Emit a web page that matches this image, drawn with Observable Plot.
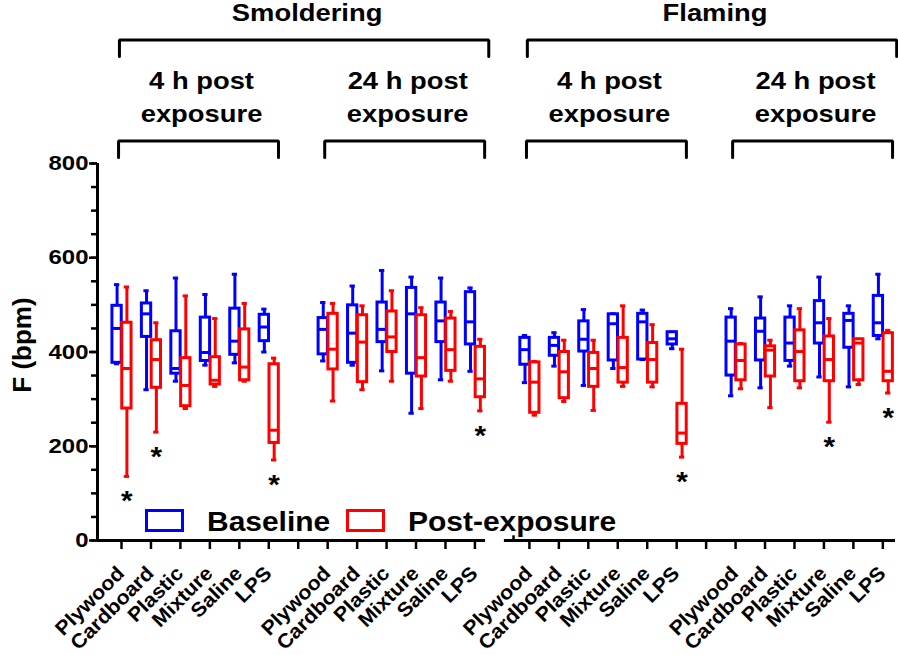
<!DOCTYPE html>
<html><head><meta charset="utf-8">
<script src="https://cdn.jsdelivr.net/npm/d3@7"></script>
<script src="https://cdn.jsdelivr.net/npm/@observablehq/plot@0.6"></script>
<style>
body{margin:0;background:#fff;}
#wrap{position:relative;width:898px;height:655px;font-family:"Liberation Sans",Arial,Helvetica,sans-serif;font-weight:bold;}
.lgbox{position:absolute;box-sizing:border-box;width:39px;height:23px;border:3px solid;background:#fff;}
.lgtext{position:absolute;font-size:28px;line-height:28px;white-space:nowrap;transform-origin:0 50%;color:#000;}
</style></head><body><div id="wrap"></div>
<script>
// ---------- data ----------
const categories = ["Plywood","Cardboard","Plastic","Mixture","Saline","LPS"];
const fireTypes = ["Smoldering","Flaming"];
const timePoints = ["4 h post\nexposure","24 h post\nexposure"];
const seriesNames = ["Baseline","Post-exposure"];
const yTicks = [0,200,400,600,800];
const yMinorStep = 50;
// each entry: [min, q1, median, q3, max] in bpm
const smold4Baseline = [[375,377,450,498,543],[320,432,481,503,530],[338,354,365,444,557],[372,381,399,473,522],[377,394,423,492,565],[400,423,453,479,491]];
const smold4Post     = [[136,280,365,462,538],[230,324,384,425,462],[280,285,329,387,519],[327,331,340,389,471],[338,340,368,448,503],[171,207,234,374,387]];
const smold24Baseline= [[381,395,448,472,505],[372,377,440,499,540],[360,421,448,505,573],[270,354,481,536,559],[341,421,466,505,557],[359,416,464,527,536]];
const smold24Post    = [[296,363,406,481,503],[320,336,421,478,498],[338,400,432,486,530],[280,348,388,478,494],[338,360,405,471,486],[275,304,343,411,427]];
const flam4Baseline  = [[335,373,405,430,435],[370,392,414,430,441],[329,401,427,465,490],[365,382,460,480,481],[384,384,464,481,489],[407,416,428,442,442]];
const flam4Post      = [[266,271,336,378,380],[295,302,358,400,425],[276,326,365,398,425],[327,335,367,430,498],[326,335,384,419,458],[177,205,228,290,406]];
const flam24Baseline = [[307,350,423,473,492],[324,382,444,471,517],[370,381,419,473,498],[347,418,462,508,559],[326,409,467,481,498],[428,434,462,519,565]];
const flam24Post     = [[322,340,382,416,418],[282,348,404,412,425],[324,338,401,446,492],[251,338,384,433,471],[331,340,419,427,427],[313,338,359,440,446]];
// significant post-exposure vs baseline (*)
const smold4Sig = ["Plywood","Cardboard","LPS"];
const smold24Sig = ["LPS"];
const flam4Sig = ["LPS"];
const flam24Sig = ["Mixture","LPS"];

// ---------- layout ----------
const W = 898, H = 655, mL = 97, mR = 3, mT = 163, mB = 115;
const xDomain = [-0.815, 26.28];
const fireStart = [0, 13.85];
const groupStart = [0, 7, 13.85, 20.85];
const slotsPerFire = 13;
const colors = {"Baseline": "#0000ff", "Post-exposure": "#ff0000"};
const seriesOffset = {"Baseline": -0.15, "Post-exposure": 0.183};
const boxHalf = 0.158, capHalf = 0.09;
const px2v = py => 800 * (H - mB - py) / (H - mB - mT);

const groups = [
  {fire: 0, time: 0, sets: [smold4Baseline, smold4Post], sig: smold4Sig},
  {fire: 0, time: 1, sets: [smold24Baseline, smold24Post], sig: smold24Sig},
  {fire: 1, time: 0, sets: [flam4Baseline, flam4Post], sig: flam4Sig},
  {fire: 1, time: 1, sets: [flam24Baseline, flam24Post], sig: flam24Sig}
];

const rows = [];
groups.forEach((g, gi) => {
  categories.forEach((c, ci) => {
    seriesNames.forEach((s, si) => {
      const [mn, q1, md, q3, mx] = g.sets[si][ci];
      rows.push({gi, ci, category: c, series: s, x: groupStart[gi] + ci + seriesOffset[s],
        min: mn, q1, med: md, q3, max: mx, sig: si === 1 && g.sig.includes(c)});
    });
  });
});

const catLabels = [];
groups.forEach((g, gi) => categories.forEach((c, ci) => catLabels.push({x: groupStart[gi] + ci, text: c})));
const slots = [];
fireStart.forEach(f => d3.range(slotsPerFire).forEach(i => slots.push(f + i)));
const axisSegments = [{x1: xDomain[0], x2: 12.36}, {x1: 13.0, x2: xDomain[1]}];
const breakTick = [13.31];

// brackets
const bracketPts = [];
const topBr = fireTypes.map((f, i) => ({x1: fireStart[i] - 0.07, x2: fireStart[i] + 12.47, label: f}));
const subBr = groups.map((g, gi) => ({x1: groupStart[gi] - 0.1, x2: groupStart[gi] + 5.33, label: timePoints[g.time]}));
function addBracket(b, id, yTop, yLeg) {
  bracketPts.push({id, x: b.x1, y: px2v(yLeg)}, {id, x: b.x1, y: px2v(yTop)},
                  {id, x: b.x2, y: px2v(yTop)}, {id, x: b.x2, y: px2v(yLeg)});
}
topBr.forEach((b, i) => addBracket(b, "t" + i, 39.5, 56));
subBr.forEach((b, i) => addBracket(b, "s" + i, 140.5, 157));

const seriesMarks = seriesNames.flatMap(s => {
  const d = rows.filter(r => r.series === s);
  const col = colors[s];
  return [
    Plot.ruleX(d, {x: "x", y1: "min", y2: "max", stroke: col, strokeWidth: 3}),
    Plot.ruleY(d, {y: "min", x1: r => r.x - capHalf, x2: r => r.x + capHalf, stroke: col, strokeWidth: 3}),
    Plot.ruleY(d, {y: "max", x1: r => r.x - capHalf, x2: r => r.x + capHalf, stroke: col, strokeWidth: 3}),
    Plot.rect(d, {x1: r => r.x - boxHalf, x2: r => r.x + boxHalf, y1: "q1", y2: "q3", fill: "white", stroke: col, strokeWidth: 3}),
    Plot.ruleY(d, {y: "med", x1: r => r.x - boxHalf, x2: r => r.x + boxHalf, stroke: col, strokeWidth: 3})
  ];
});

const chart = Plot.plot({
  width: W, height: H, marginLeft: mL, marginRight: mR, marginTop: mT, marginBottom: mB,
  style: {fontFamily: '"Liberation Sans", Arial, Helvetica, sans-serif', fontWeight: "bold", background: "white", color: "black", overflow: "visible"},
  x: {type: "linear", domain: xDomain, label: null},
  y: {domain: [0, 800], label: null},
  marks: [
    Plot.axisY({ticks: d3.range(0, 801, yMinorStep), tickSize: 6, tickFormat: () => "", strokeWidth: 2.5, label: null}),
    Plot.axisY({ticks: yTicks, tickSize: 8, tickPadding: 1, fontSize: 21, strokeWidth: 2.5, label: null}),
    Plot.ruleX([xDomain[0]], {y1: 0, y2: 800, strokeWidth: 3}),
    Plot.axisX({ticks: slots, tickSize: 9, tickFormat: () => "", strokeWidth: 2.5, label: null}),
    Plot.ruleY(axisSegments, {y: 0, x1: "x1", x2: "x2", strokeWidth: 3}),
    Plot.ruleX(breakTick, {x: d => d, y1: 0, y2: 10, strokeWidth: 2.5}),
    Plot.text(catLabels, {x: "x", text: "text", frameAnchor: "bottom", dx: -6, dy: 24, rotate: -45, textAnchor: "end", lineAnchor: "top", fontSize: 20}),
    Plot.text(["F (bpm)"], {x: () => xDomain[0], y: () => px2v(344.5), dx: -75, rotate: -90, textAnchor: "middle", lineAnchor: "middle", fontSize: 26}),
    ...seriesMarks,
    Plot.text(rows.filter(r => r.sig), {x: "x", y: "min", text: () => "*", dy: 25, fontSize: 27}),
    Plot.line(bracketPts, {x: "x", y: "y", z: "id", stroke: "black", strokeWidth: 3, strokeLinejoin: "miter"}),
    Plot.text(topBr, {x: b => (b.x1 + b.x2) / 2, y: () => px2v(13), text: "label", dx: 3, fontSize: 24}),
    Plot.text(subBr, {x: b => (b.x1 + b.x2) / 2, y: () => px2v(80.6), text: b => b.label.split("\n")[0], dx: 3, fontSize: 24.01}),
    Plot.text(subBr, {x: b => (b.x1 + b.x2) / 2, y: () => px2v(114), text: b => b.label.split("\n")[1], dx: 3, fontSize: 24.01})
  ]
});

const wrap = document.getElementById("wrap");
wrap.appendChild(chart);

// legend
const legendLeft = [145, 346];
seriesNames.forEach((s, i) => {
  const b = document.createElement("div");
  b.className = "lgbox";
  b.style.left = legendLeft[i] + "px"; b.style.top = "509px"; b.style.borderColor = colors[s];
  wrap.appendChild(b);
  const t = document.createElement("div");
  t.className = "lgtext";
  t.textContent = s;
  t.style.left = (legendLeft[i] + 62) + "px"; t.style.top = "508px";
  t.style.transform = "scaleX(1.07)";
  wrap.appendChild(t);
});

// horizontal stretch of text to match the reference's wide lettering (anchor kept in place)
const stretch = {"24": 1.14, "24.01": 1.14, "21": 1.14, "20": 1.07, "27": 1.1};
chart.querySelectorAll("text").forEach(t => {
  if (t.querySelector("tspan")) return;
  const fs = String(parseFloat(getComputedStyle(t).fontSize));
  const s = stretch[fs];
  if (!s) return;
  const L = t.getComputedTextLength();
  if (!(L > 0)) return;
  const anchor = getComputedStyle(t).textAnchor;
  const b1 = t.getBBox();
  t.setAttribute("textLength", L * s);
  t.setAttribute("lengthAdjust", "spacingAndGlyphs");
  const b2 = t.getBBox();
  let shift;
  if (anchor === "end") shift = (b1.x + b1.width) - (b2.x + b2.width);
  else if (anchor === "middle") shift = (b1.x + b1.width / 2) - (b2.x + b2.width / 2);
  else shift = b1.x - b2.x;
  if (Math.abs(shift) > 0.01) t.setAttribute("transform", (t.getAttribute("transform") || "") + ` translate(${shift},0)`);
});
</script></body></html>
